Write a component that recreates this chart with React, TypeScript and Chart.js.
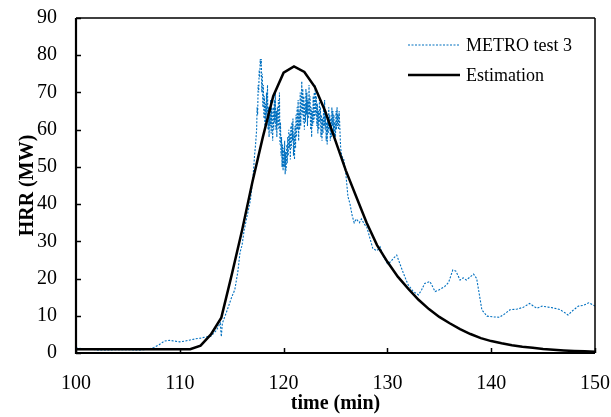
import React, { useEffect, useRef } from 'react';
import { Chart, registerables } from 'chart.js';

Chart.register(...registerables);

// ---- Data ----
const seriesLabels = ['METRO test 3', 'Estimation'];
const xTicks = [100, 110, 120, 130, 140, 150];
const yTicks = [0, 10, 20, 30, 40, 50, 60, 70, 80, 90];

const metroTime = [
  100.0, 100.5, 101.0, 101.5, 102.0, 103.0, 104.0, 105.0, 106.0, 107.0,
  107.5, 108.0, 108.5, 109.0, 109.5, 110.0, 110.5, 111.0, 111.5, 112.0,
  112.5, 113.0, 113.5, 113.9, 114.0, 114.1, 114.5, 115.0, 115.3, 115.6,
  115.8, 116.0, 116.2, 116.5, 116.8,
  117.0, 117.1, 117.2, 117.3, 117.4,
  117.45, 117.50, 117.55, 117.60, 117.65, 117.70, 117.75, 117.80, 117.85, 117.90,
  117.95, 118.00, 118.05, 118.10, 118.15, 118.20, 118.25, 118.30, 118.35, 118.40,
  118.45, 118.50, 118.55, 118.60, 118.65, 118.70, 118.75, 118.80, 118.85, 118.90,
  118.95, 119.00, 119.05, 119.10, 119.15, 119.20, 119.25, 119.30, 119.35, 119.40,
  119.45, 119.50, 119.55, 119.60, 119.65, 119.70, 119.75, 119.80, 119.85, 119.90,
  119.95, 120.00, 120.05, 120.10, 120.15, 120.20, 120.25, 120.30, 120.35, 120.40,
  120.45, 120.50, 120.55, 120.60, 120.65, 120.70, 120.75, 120.80, 120.85, 120.90,
  120.95, 121.00, 121.05, 121.10, 121.15, 121.20, 121.25, 121.30, 121.35, 121.40,
  121.45, 121.50, 121.55, 121.60, 121.65, 121.70, 121.75, 121.80, 121.85, 121.90,
  121.95, 122.00, 122.05, 122.10, 122.15, 122.20, 122.25, 122.30, 122.35, 122.40,
  122.45, 122.50, 122.55, 122.60, 122.65, 122.70, 122.75, 122.80, 122.85, 122.90,
  122.95, 123.00, 123.05, 123.10, 123.15, 123.20, 123.25, 123.30, 123.35, 123.40,
  123.45, 123.50, 123.55, 123.60, 123.65, 123.70, 123.75, 123.80, 123.85, 123.90,
  123.95, 124.00, 124.05, 124.10, 124.15, 124.20, 124.25, 124.30, 124.35, 124.40,
  124.45, 124.50, 124.55, 124.60, 124.65, 124.70, 124.75, 124.80, 124.85, 124.90,
  124.95, 125.00, 125.05, 125.10, 125.15, 125.20, 125.25, 125.30, 125.35, 125.40,
  125.45, 125.50,
  125.6, 125.8, 126.0, 126.2, 126.4, 126.6, 126.8, 127.0, 127.3, 127.5,
  127.8, 128.0, 128.3, 128.6, 129.0, 129.3, 129.6, 130.0, 130.3, 130.6,
  130.9, 131.2, 131.6, 132.0, 132.5, 133.0, 133.3, 133.6, 134.1, 134.6,
  135.0, 135.5, 135.9, 136.3, 136.6, 137.0, 137.3, 137.6, 138.0, 138.3,
  138.6, 138.9, 139.1, 139.6, 140.2, 140.8, 141.3, 141.8, 142.5, 143.1,
  143.7, 144.4, 144.9, 145.3, 146.0, 146.6, 147.0, 147.4, 147.9, 148.4,
  148.9, 149.4, 150.0,
];
const metroHRR = [
  1.3, 1.2, 1.2, 1.0, 0.8, 0.8, 0.9, 0.9, 0.8, 1.0,
  1.5, 2.2, 3.2, 3.4, 3.2, 3.0, 3.2, 3.5, 3.8, 4.0,
  4.3, 4.5, 6.0, 8.0, 4.4, 8.0, 11, 15, 17, 22,
  27, 29, 33, 37, 41,
  46, 49, 53, 56, 60,
  66, 64, 72, 70, 76, 74, 79, 77, 79, 70,
  75, 66, 72, 63, 69, 60, 67, 62, 70, 64,
  72, 60, 66, 58, 64, 61, 68, 59, 66, 62,
  57, 66, 60, 68, 62, 70, 60, 65, 58, 66,
  61, 68, 60, 70, 56, 62, 53, 58, 50, 56,
  49, 55, 50, 57, 48, 54, 49, 56, 51, 58,
  53, 60, 55, 59, 52, 61, 55, 62, 57, 63,
  53, 59, 52, 61, 55, 64, 58, 66, 60, 68,
  57, 65, 60, 70, 61, 66, 73, 64, 71, 62,
  69, 60, 67, 62, 71, 64, 70, 61, 68, 63,
  72, 64, 69, 60, 66, 58, 65, 61, 69, 62,
  70, 63, 72, 64, 69, 61, 67, 59, 65, 60,
  68, 62, 66, 58, 64, 57, 63, 59, 66, 61,
  68, 60, 65, 57, 62, 56, 63, 59, 66, 60,
  64, 57, 63, 58, 66, 61, 65, 59, 64, 57,
  62, 58, 65, 60, 66, 61, 64, 60, 65, 62,
  58, 55,
  53, 52, 48, 42, 40, 37, 35, 36, 35, 36,
  34.5, 34, 31, 28, 27.5, 28.5, 26, 24, 24.5, 25.5,
  26.3, 24, 21, 18.3, 16.5, 15.6, 17, 18.7, 19.2, 16.5,
  17, 17.8, 19, 22.3, 22, 19.6, 20.2, 19.6, 20.5, 21.2,
  20, 15, 11.6, 9.9, 9.7, 9.6, 10.5, 11.6, 11.8, 12.3,
  13.3, 12, 12.6, 12.4, 12.1, 11.7, 11, 10.2, 11.5, 12.6,
  12.8, 13.5, 12.6,
];

const estTime = [
  100, 101, 102, 103, 104, 105, 106, 107, 108, 109, 110, 111, 112, 113, 114, 115, 116, 117, 118, 119, 120,
  121, 122, 123, 124, 125, 126, 127, 128, 129, 130, 131, 132, 133, 134, 135, 136, 137, 138, 139, 140, 141,
  142, 143, 144, 145, 146, 147, 148, 149, 150,
];
const estHRR = [
  1, 1, 1, 1, 1, 1, 1, 1, 1, 1, 1, 1, 2, 5, 9.5, 21, 33, 46, 58, 69, 75.3,
  77, 75.5, 71.5, 65, 57, 49, 42, 35, 29, 24.5, 20.5, 17.3, 14.3, 11.8, 9.7, 8, 6.4, 5.1, 4, 3.2, 2.6,
  2.1, 1.7, 1.4, 1.1, 0.9, 0.7, 0.55, 0.45, 0.35,
];

const metroColor = '#0070C0';
const estColor = '#000000';
const FONT = "'Liberation Serif', 'Times New Roman', serif";

const framePlugin = {
  id: 'frame',
  afterDraw(chart: any) {
    const { ctx, chartArea: a, scales } = chart;
    ctx.save();
    ctx.strokeStyle = '#000';
    ctx.lineWidth = 1.5;
    ctx.beginPath();
    yTicks.forEach((v) => {
      const y = Math.round(scales.y.getPixelForValue(v)) + 0.5;
      ctx.moveTo(a.left, y);
      ctx.lineTo(a.left + 5, y);
    });
    xTicks.forEach((v) => {
      const x = Math.round(scales.x.getPixelForValue(v)) + 0.5;
      ctx.moveTo(x, a.bottom);
      ctx.lineTo(x, a.bottom - 5);
    });
    ctx.stroke();

    ctx.lineWidth = 1.5;
    ctx.beginPath();
    ctx.moveTo(a.left, a.top);
    ctx.lineTo(a.right, a.top);
    ctx.moveTo(a.right, a.top);
    ctx.lineTo(a.right, a.bottom);
    ctx.stroke();
    ctx.lineWidth = 2.2;
    ctx.beginPath();
    ctx.moveTo(a.left, a.top);
    ctx.lineTo(a.left, a.bottom);
    ctx.lineTo(a.right, a.bottom);
    ctx.stroke();

    // legend
    const lx = 408;
    const items = [
      { label: seriesLabels[0], color: metroColor, width: 1.2, dash: [2, 1.5], y: 45 },
      { label: seriesLabels[1], color: estColor, width: 2.5, dash: [], y: 75 },
    ];
    items.forEach((it) => {
      ctx.strokeStyle = it.color;
      ctx.lineWidth = it.width;
      ctx.setLineDash(it.dash);
      ctx.beginPath();
      ctx.moveTo(lx, it.y);
      ctx.lineTo(lx + 52, it.y);
      ctx.stroke();
      ctx.setLineDash([]);
      ctx.fillStyle = '#000';
      ctx.font = `18px ${FONT}`;
      ctx.textAlign = 'left';
      ctx.textBaseline = 'middle';
      ctx.fillText(it.label, lx + 58, it.y + 1);
    });
    ctx.restore();
  },
};

const zeroPadding = (s: any) => {
  s.paddingTop = 0;
  s.paddingBottom = 0;
  s.paddingLeft = 0;
  s.paddingRight = 0;
};

export default function App() {
  const ref = useRef<HTMLCanvasElement | null>(null);
  useEffect(() => {
    document.body.style.margin = '0';
    const canvas = ref.current;
    if (!canvas) return;
    const chart = new Chart(canvas, {
      type: 'line',
      data: {
        datasets: [
          {
            label: seriesLabels[1],
            data: estTime.map((t, i) => ({ x: t, y: estHRR[i] })),
            borderColor: estColor,
            borderWidth: 2.5,
            pointRadius: 0,
            tension: 0,
            fill: false,
          },
          {
            label: seriesLabels[0],
            data: metroTime.map((t, i) => ({ x: t, y: metroHRR[i] })),
            borderColor: metroColor,
            borderWidth: 1.1,
            borderDash: [2, 1.5],
            pointRadius: 0,
            tension: 0,
            fill: false,
          },
        ],
      },
      options: {
        responsive: false,
        animation: false,
        devicePixelRatio: 1,
        layout: { padding: { left: 0, top: 18, right: 16, bottom: 0 } },
        plugins: { legend: { display: false }, tooltip: { enabled: false } },
        scales: {
          x: {
            type: 'linear',
            min: 100,
            max: 150,
            afterFit: (s: any) => { s.height = 64; zeroPadding(s); },
            afterBuildTicks: (s: any) => { s.ticks = xTicks.map((v) => ({ value: v })); },
            grid: { display: false },
            border: { display: false },
            ticks: {
              autoSkip: false,
              maxRotation: 0,
              padding: 11,
              color: '#000',
              font: { family: FONT, size: 20 },
            },
            title: {
              display: true,
              text: 'time (min)',
              color: '#000',
              font: { family: FONT, size: 20, weight: 'bold' },
              padding: { top: 0, bottom: 1 },
            },
          },
          y: {
            type: 'linear',
            min: 0,
            max: 90,
            afterFit: (s: any) => { s.width = 76; zeroPadding(s); },
            afterBuildTicks: (s: any) => { s.ticks = yTicks.map((v) => ({ value: v })); },
            grid: { display: false },
            border: { display: false },
            ticks: {
              autoSkip: false,
              padding: 11,
              color: '#000',
              font: { family: FONT, size: 20 },
            },
            title: {
              display: true,
              text: 'HRR (MW)',
              color: '#000',
              font: { family: FONT, size: 20, weight: 'bold' },
              padding: { top: 16, bottom: 0 },
            },
          },
        },
      },
      plugins: [framePlugin],
    } as any);
    return () => chart.destroy();
  }, []);
  return (
    <div style={{ position: 'absolute', left: 0, top: 0, width: 611, height: 417 }}>
      <canvas ref={ref} width={611} height={417} />
    </div>
  );
}
